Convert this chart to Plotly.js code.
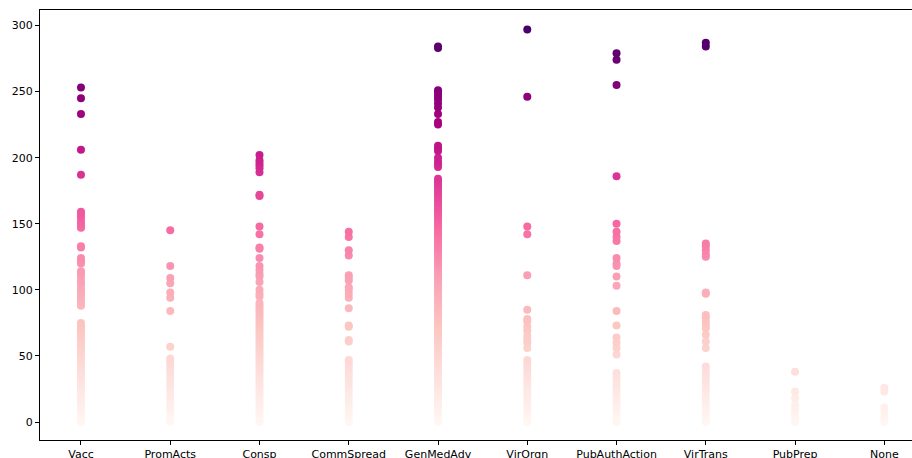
<!DOCTYPE html>
<html>
<head>
<meta charset="utf-8">
<script src="https://cdn.plot.ly/plotly-3.0.1.min.js"></script>
<style>html,body{margin:0;padding:0;background:#fff;}#chart{width:912px;height:458px;}</style>
</head>
<body>
<div id="chart"></div>
<script>
const categories = ["Vacc","PromActs","Consp","CommSpread","GenMedAdv","VirOrgn","PubAuthAction","VirTrans","PubPrep","None"];

const vacc = [253,245,233,206,187,159,157,155,152,150,148,147,133,132,124,122,120,114,112,110,107,105,103,100,98,96,94,92,90,88,75,73,71,69,67,65,63,61,59,57,55,53,51,49,47,45,43,41,39,37,35,33,31,29,27,25,23,21,19,17,15,13,11,9,7,5,3,1,0];
const promActs = [145,118,109,105,98,94,84,57,48,46,43,40,37,34,31,28,25,22,19,16,13,10,7,4,2,0];
const consp = [202,198,196,194,192,189,172,171,148,142,132,131,124,118,115,112,110,106,100,97,95,90,88,86,84,82,80,78,76,74,72,70,68,66,64,62,60,58,56,54,52,50,48,46,44,42,40,38,36,34,32,30,28,26,24,22,20,18,16,14,12,10,8,6,4,2,0];
const commSpread = [144,140,130,126,111,109,107,102,100,97,94,86,73,72,62,61,47,45,42,39,36,33,30,27,24,21,18,15,12,9,6,3,0];
const genMedAdv = [284,283,251,250,248,246,244,241,238,233,227,225,209,207,205,200,197,195,193,184,182,180,178,176,174,172,170,168,166,164,162,160,158,156,154,152,150,148,146,144,142,140,138,136,134,132,130,128,126,124,122,120,118,116,114,112,110,108,106,104,102,100,98,96,94,92,90,88,86,84,82,80,78,76,74,72,70,68,66,64,62,60,58,56,54,52,50,48,46,44,42,40,38,36,34,32,30,28,26,24,22,20,18,16,14,12,10,8,6,4,2,0];
const virOrgn = [297,246,148,142,111,85,78,76,72,69,65,62,60,56,47,44,41,38,35,32,29,26,23,20,17,14,11,8,5,2,0];
const pubAuthAction = [279,274,255,186,150,144,140,137,124,120,118,110,103,84,73,64,60,56,51,37,34,31,28,25,22,19,16,13,10,7,4,1,0];
const virTrans = [287,284,135,133,130,127,125,98,97,81,79,76,73,71,66,61,56,42,39,36,33,30,27,24,21,18,15,12,9,6,3,0];
const pubPrep = [38,23,18,13,10,8,5,3,0];
const none = [26,23,11,8,5,3,0];

const series = [vacc,promActs,consp,commSpread,genMedAdv,virOrgn,pubAuthAction,virTrans,pubPrep,none];

const xs = [], ys = [];
series.forEach((arr, i) => {
  const sorted = arr.slice().sort((a,b)=>a-b);
  sorted.forEach(v => { xs.push(categories[i]); ys.push(v); });
});
const vmin = Math.min(...ys), vmax = Math.max(...ys);

const rdpu = [
  [0.0,'#fff7f3'],[0.125,'#fde0dd'],[0.25,'#fcc5c0'],[0.375,'#fa9fb5'],
  [0.5,'#f768a1'],[0.625,'#dd3497'],[0.75,'#ae017e'],[0.875,'#7a0177'],[1.0,'#49006a']
];

const trace = {
  type: 'scatter', mode: 'markers', x: xs, y: ys,
  marker: {size: 8, color: ys, colorscale: rdpu, cmin: vmin, cmax: vmax, line: {width: 0}, showscale: false},
  hoverinfo: 'x+y'
};

const layout = {
  width: 912, height: 458,
  margin: {l: 40, r: 0, t: 10, b: 18, pad: 0},
  paper_bgcolor: '#fff', plot_bgcolor: '#fff',
  font: {family: 'DejaVu Sans, sans-serif', size: 11, color: '#000'},
  showlegend: false,
  xaxis: {
    type: 'category', categoryarray: categories, categoryorder: 'array',
    range: [-0.459, 9.31], showline: true, mirror: true, linecolor: '#000', linewidth: 1,
    ticks: 'outside', ticklen: 4, tickwidth: 1, tickcolor: '#000',
    showgrid: false, zeroline: false
  },
  yaxis: {
    range: [-13.6, 311.7], tickvals: [0,50,100,150,200,250,300],
    showline: true, mirror: false, linecolor: '#000', linewidth: 1,
    ticks: 'outside', ticklen: 4, tickwidth: 1, tickcolor: '#000',
    showgrid: false, zeroline: false
  }
};

Plotly.newPlot('chart', [trace], layout, {staticPlot: true, displayModeBar: false});
</script>
</body>
</html>
